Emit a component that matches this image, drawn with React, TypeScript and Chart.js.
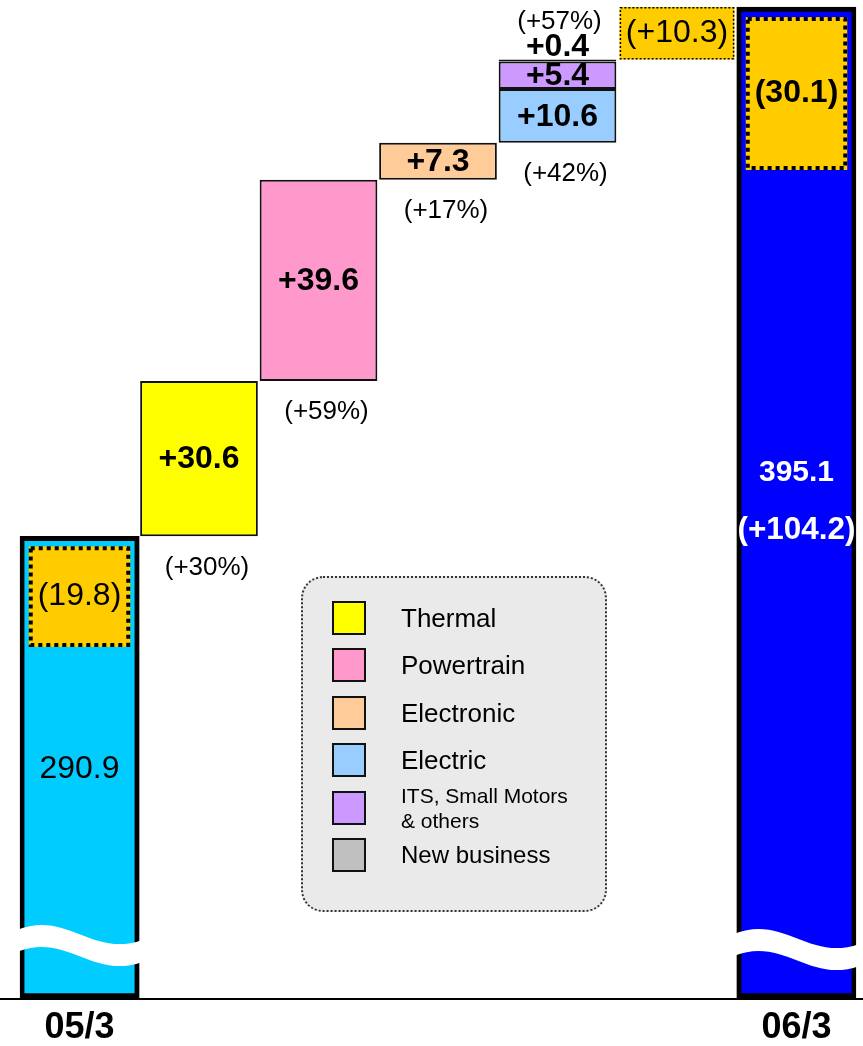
import React, { useEffect, useRef } from 'react';
import { Chart, registerables } from 'chart.js';

Chart.register(...registerables);

// Fiscal year-end periods shown on the axis
const periods = ['05/3', '06/3'];
// Net sales at each period end
const totalSales = [290.9, 395.1];
const totalChange = 104.2;

// Increase by business segment between the two periods
const segmentNames = ['Thermal', 'Powertrain', 'Electronic', 'Electric', 'ITS, Small Motors\n& others', 'New business'];
const segmentIncrease = [30.6, 39.6, 7.3, 10.6, 5.4, 0.4];
const segmentGrowth = ['(+30%)', '(+59%)', '(+17%)', '(+42%)', '(+57%)', ''];
const segmentColumn = [1, 2, 3, 4, 4, 4];

// Portion coming from consolidated subsidiaries
const consolidatedSales = [19.8, 30.1];
const consolidatedChange = 10.3;
const consolidatedColumn = 5;

// ---- styling ----
const FONT = '"Liberation Sans", Arial, Helvetica, sans-serif';
const segmentColors = ['#FFFF00', '#FF99CC', '#FFCC99', '#99CCFF', '#CC99FF', '#C0C0C0'];
const totalColors = ['#00CCFF', '#0000FF'];
const consolidatedColor = '#FFCC00';
const AXIS_MIN = 200;
const AXIS_MAX = 396.5;
const COLUMN_COUNT = 7;
const LAST = COLUMN_COUNT - 1;

const emptyRow = (): any[] => Array(COLUMN_COUNT).fill(null);
const fmt = (v: number) => v.toFixed(1);

function buildDatasets() {
  const totals = emptyRow();
  totals[0] = [AXIS_MIN, totalSales[0]];
  totals[LAST] = [AXIS_MIN, totalSales[1]];
  const totalBg = emptyRow();
  totalBg[0] = totalColors[0];
  totalBg[LAST] = totalColors[1];

  const datasets: any[] = [
    {
      label: 'Net sales',
      data: totals,
      backgroundColor: totalBg,
      borderColor: '#000',
      borderWidth: 5,
      borderSkipped: false,
      grouped: false,
      barPercentage: 1,
      categoryPercentage: 1,
    },
  ];

  let running = totalSales[0];
  segmentNames.forEach((name, i) => {
    const data = emptyRow();
    data[segmentColumn[i]] = [running, running + segmentIncrease[i]];
    running += segmentIncrease[i];
    datasets.push({
      label: name,
      data,
      backgroundColor: segmentColors[i],
      borderColor: '#111',
      borderWidth: 2,
      borderSkipped: false,
      grouped: false,
      barPercentage: 0.985,
      categoryPercentage: 1,
    });
  });

  const consolidated = emptyRow();
  consolidated[consolidatedColumn] = [running, running + consolidatedChange];
  datasets.push({
    label: 'Consolidated subsidiaries',
    data: consolidated,
    backgroundColor: consolidatedColor,
    borderWidth: 0,
    grouped: false,
    barPercentage: 0.96,
    categoryPercentage: 1,
  });
  return datasets;
}

function text(ctx: CanvasRenderingContext2D, s: string, x: number, y: number, size: number, bold: boolean, color = '#000') {
  ctx.font = `${bold ? 'bold ' : ''}${size}px ${FONT}`;
  ctx.fillStyle = color;
  ctx.textAlign = 'center';
  ctx.textBaseline = 'middle';
  ctx.fillText(s, x, y);
}

const waterfallLabels = {
  id: 'waterfallLabels',
  afterDatasetsDraw(chart: any) {
    const { ctx, chartArea } = chart;
    const y = chart.scales.y;
    const totals = chart.getDatasetMeta(0).data;
    ctx.save();

    // consolidated portion inside each year-end bar
    [0, LAST].forEach((col, k) => {
      const bar = totals[col];
      const left = bar.x - bar.width / 2 + 9;
      const right = bar.x + bar.width / 2 - 9;
      const top = y.getPixelForValue(totalSales[k]) + 10;
      const bottom = y.getPixelForValue(totalSales[k] - consolidatedSales[k]) + 10;
      ctx.fillStyle = consolidatedColor;
      ctx.fillRect(left, top, right - left, bottom - top);
      ctx.setLineDash([4, 4]);
      ctx.lineWidth = 4;
      ctx.strokeStyle = '#000';
      ctx.strokeRect(left + 2, top + 2, right - left - 4, bottom - top - 4);
      ctx.setLineDash([]);
      text(ctx, `(${fmt(consolidatedSales[k])})`, bar.x, (top + bottom) / 2, 32, k === 1);
    });

    // axis break across the year-end bars
    [0, LAST].forEach((col, k) => {
      const bar = totals[col];
      const xL = bar.x - bar.width / 2 - 3;
      const xR = bar.x + bar.width / 2 + 3;
      const w = xR - xL;
      const y0 = chartArea.bottom - 68 + k * 4;
      const band = 22;
      ctx.beginPath();
      ctx.moveTo(xL, y0);
      ctx.bezierCurveTo(xL + 0.4 * w, y0 - 20, xL + 0.6 * w, y0 + 28, xR, y0 + 10);
      ctx.lineTo(xR, y0 + 10 + band);
      ctx.bezierCurveTo(xL + 0.6 * w, y0 + 28 + band, xL + 0.4 * w, y0 - 20 + band, xL, y0 + band);
      ctx.closePath();
      ctx.fillStyle = '#fff';
      ctx.fill();
    });

    // baseline
    ctx.beginPath();
    ctx.moveTo(0, chartArea.bottom + 1);
    ctx.lineTo(chart.width, chartArea.bottom + 1);
    ctx.lineWidth = 2;
    ctx.strokeStyle = '#000';
    ctx.stroke();

    // year-end totals
    text(ctx, fmt(totalSales[0]), totals[0].x, y.getPixelForValue(245), 32, false);
    const endMid = y.getPixelForValue(297.7);
    text(ctx, fmt(totalSales[1]), totals[LAST].x, endMid - 29, 30, true, '#fff');
    text(ctx, `(+${fmt(totalChange)})`, totals[LAST].x, endMid + 29, 31.5, true, '#fff');

    // segment increments and growth rates
    segmentNames.forEach((_, i) => {
      const el = chart.getDatasetMeta(i + 1).data[segmentColumn[i]];
      const h = el.base - el.y;
      const colMembers = segmentColumn
        .map((c, j) => (c === segmentColumn[i] ? j : -1))
        .filter((j) => j >= 0);
      const colTop = Math.min(...colMembers.map((j) => chart.getDatasetMeta(j + 1).data[segmentColumn[j]].y));
      if (h >= 20) {
        text(ctx, `+${fmt(segmentIncrease[i])}`, el.x, el.y + h / 2 + 1, 32, true);
      } else {
        text(ctx, `+${fmt(segmentIncrease[i])}`, el.x, el.y - 12, 32, true);
      }
      if (segmentGrowth[i]) {
        if (colMembers[0] === i) {
          text(ctx, segmentGrowth[i], el.x + 8, el.base + 31, 26, false);
        } else {
          text(ctx, segmentGrowth[i], el.x + 2, colTop - 38, 26, false);
        }
      }
    });

    // consolidated change step
    const step = chart.getDatasetMeta(segmentNames.length + 1).data[consolidatedColumn];
    const sl = step.x - step.width / 2;
    ctx.setLineDash([2, 2]);
    ctx.lineWidth = 1.5;
    ctx.strokeStyle = '#000';
    ctx.strokeRect(sl + 0.75, step.y + 0.75, step.width - 1.5, step.base - step.y - 1.5);
    ctx.setLineDash([]);
    text(ctx, `(+${fmt(consolidatedChange)})`, step.x, (step.y + step.base) / 2, 32, false);

    ctx.restore();
  },
};

function Legend() {
  return (
    <div
      style={{
        position: 'absolute',
        left: 301,
        top: 576,
        width: 306,
        height: 336,
        boxSizing: 'border-box',
        background: '#EAEAEA',
        border: '2px dotted #333',
        borderRadius: 22,
        fontFamily: FONT,
        color: '#000',
      }}
    >
      {segmentNames.map((name, i) => {
        const twoLine = name.includes('\n');
        return (
          <div
            key={name}
            style={{
              position: 'absolute',
              left: 29,
              top: 23 + i * 47.4,
              height: 34,
              display: 'flex',
              alignItems: 'center',
            }}
          >
            <div
              style={{
                width: 34,
                height: 34,
                boxSizing: 'border-box',
                border: '2px solid #111',
                background: segmentColors[i],
                flex: 'none',
              }}
            />
            <div
              style={{
                marginLeft: 35,
                fontSize: twoLine ? 21 : i === segmentNames.length - 1 ? 24 : 26,
                lineHeight: twoLine ? '25px' : '30px',
                whiteSpace: 'pre',
              }}
            >
              {name}
            </div>
          </div>
        );
      })}
    </div>
  );
}

export default function App() {
  const canvasRef = useRef<HTMLCanvasElement | null>(null);

  useEffect(() => {
    if (!canvasRef.current) return;
    const labels = Array.from({ length: COLUMN_COUNT }, (_, i) =>
      i === 0 ? periods[0] : i === LAST ? periods[1] : ''
    );
    const chart = new Chart(canvasRef.current, {
      type: 'bar',
      data: { labels, datasets: buildDatasets() },
      options: {
        animation: false,
        responsive: false,
        devicePixelRatio: 1,
        layout: { padding: { left: 19.75, right: 6.75, top: 0, bottom: 0 } },
        plugins: { legend: { display: false }, tooltip: { enabled: false }, title: { display: false } },
        scales: {
          x: {
            grid: { display: false, drawTicks: false },
            border: { display: false },
            ticks: {
              autoSkip: false,
              maxRotation: 0,
              padding: 8,
              color: '#000',
              font: { family: FONT, size: 36, weight: 'bold' },
            },
            afterFit: (scale: any) => {
              scale.height = 48;
            },
          },
          y: { display: false, min: AXIS_MIN, max: AXIS_MAX },
        },
      } as any,
      plugins: [waterfallLabels],
    });
    return () => chart.destroy();
  }, []);

  return (
    <div style={{ position: 'absolute', left: 0, top: 0, width: 863, height: 1046, background: '#fff' }}>
      <canvas ref={canvasRef} width={863} height={1046} style={{ display: 'block' }} />
      <Legend />
    </div>
  );
}
